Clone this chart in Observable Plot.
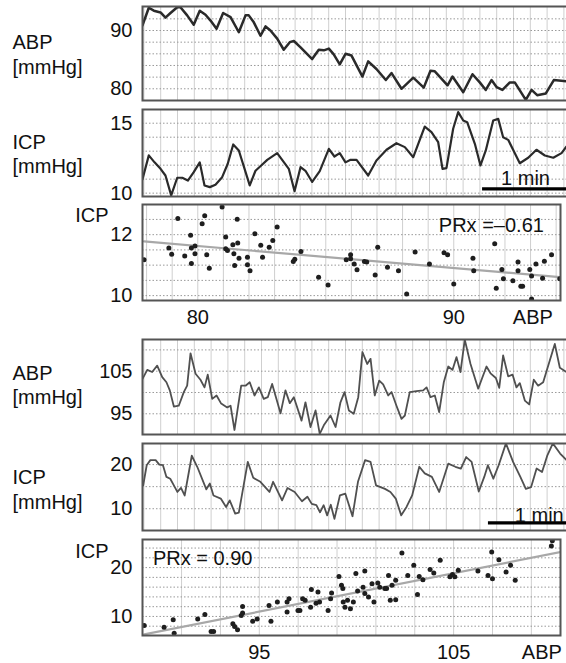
<!DOCTYPE html>
<html>
<head>
<meta charset="utf-8">
<script src="https://cdn.jsdelivr.net/npm/d3@7"></script>
<script src="https://cdn.jsdelivr.net/npm/@observablehq/plot@0.6"></script>
<style>
  html, body { margin: 0; padding: 0; background: #fff; }
  #chart { position: relative; width: 566px; height: 663px; overflow: hidden; background: #fff; }
  #chart > svg { position: absolute; left: 0; }
</style>
</head>
<body>
<div id="chart"></div>
<script>
// ---------- Data ----------
// Panel A: ABP time series (seconds, mmHg)
const abp1Time = [0,4.5,8.1,12.9,16.4,20,24.8,27.1,31.9,36.6,40.9,45,48.6,52.9,57.6,62.9,68.8,73.6,75.9,79.5,84.3,87.9,91.4,96.2,100.9,105.2,108.1,112.9,121.2,125.9,129.5,133.1,136.6,140.9,145,149.3,157.1,161.2,167.1,173.8,177.9,185,193.4,200.9,205.7,208.8,217.9,221.4,229.1,235.7,240.9,245.2,249.3,252.9,257.1,262.4,265.9,273.8,277.9,281.9,288.1,293.8,302.9];
const abp1 = [90.9,93.9,93.4,93.1,92.2,93.0,94.0,94.0,92.6,91.0,93.4,92.7,91.7,90.3,93.0,92.3,89.7,92.6,92.6,91.4,89.1,90.7,90.0,88.6,86.7,88.0,88.2,87.1,85.1,86.7,86.6,86.9,85.9,84.2,86.0,85.7,82.1,84.7,83.4,81.5,82.7,80.0,81.9,80.2,83.1,83.0,80.6,82.1,79.4,82.5,81.1,79.8,81.5,80.3,79.8,81.1,81.1,78.1,79.8,78.9,79.2,81.5,81.3];
// Panel A: ICP time series
const icp1Time = [0,4.5,8.6,12.9,16.4,20.5,24.8,28.4,32.4,36.6,40.9,44.3,48.1,52.1,56.9,60.9,64.8,68.8,76.6,80.7,84.8,89.1,96.2,104.5,108.6,112.9,116.4,121.2,126.6,133.1,137.1,140.9,145,148.6,152.9,161.2,167.1,174.3,181.4,187.4,193.4,201.6,206.4,211.2,214.3,217.1,221.9,225.5,229.1,231.9,237.4,241.4,245.2,250.5,254.1,257.6,261.2,269.5,275.5,281.4,287.4,293.4,299.3,302.9];
const icp1 = [11.0,12.7,12.2,11.74,11.26,9.84,11.1,11.1,10.9,11.5,12.2,10.55,10.43,10.6,11.14,12.1,13.48,13.05,10.55,11.6,11.98,12.38,12.86,11.74,10.14,11.86,11.6,10.8,11.57,13.17,12.62,12.86,12.2,12.38,12.38,11.26,12.34,13.1,13.57,13.29,12.57,14.76,14.36,13.64,11.74,11.79,14.6,15.79,15.19,15.07,13.53,11.98,13.05,15.19,15.31,14.0,13.81,12.14,12.53,13.1,12.69,12.53,12.86,13.34];
// Panel A: scatter ICP vs ABP
const prx1Abp = [77.9,78.87,78.98,79.22,79.49,79.72,79.75,79.75,79.89,79.89,80.17,80.27,80.35,80.45,80.95,81.09,81.09,81.16,81.37,81.41,81.44,81.54,81.56,81.61,81.94,81.94,82.04,82.23,82.46,82.53,82.79,82.93,83.1,83.73,83.79,84.03,84.72,85.09,85.8,85.97,85.97,86.11,86.22,86.51,86.6,86.93,87.03,87.41,87.84,88.16,88.49,89.05,89.62,89.76,90.0,90.75,90.78,91.6,91.66,91.88,91.94,92.31,92.51,92.51,92.62,92.69,92.97,93.04,93.04,93.21,93.47,93.54,93.82,94.14];
const prx1Icp = [11.18,11.56,11.36,12.53,11.3,11.98,11.56,11.05,11.63,11.37,12.36,12.62,11.34,10.9,12.91,11.92,11.54,11.48,11.67,11.37,10.99,12.51,11.73,11.23,11.26,11.01,10.82,12.03,11.65,11.26,11.59,11.81,12.25,11.12,11.19,11.45,10.6,10.35,11.18,11.34,11.21,11.04,10.85,11.12,11.1,10.68,11.59,10.93,10.82,10.05,11.43,11.04,11.41,11.34,10.38,11.23,10.82,11.7,10.24,10.86,10.55,10.49,11.1,10.82,10.31,10.31,10.86,10.64,9.89,11.04,10.57,11.13,11.34,10.55];
const prx1Label = "PRx =\u20130.61";

// Panel B: ABP time series
const abp2Time = [0,3.4,6.9,10.5,14.1,17.1,19.5,22.4,25.9,29.5,31.9,34.3,37.9,41.4,44.3,46.6,49.8,52.9,56.2,60.5,62.9,65.7,70.5,73.6,76.6,80,83.1,86.6,89.5,92.6,98.6,102.1,105.2,108.1,113.6,116.4,120,123.6,126.6,129.5,134.3,137.9,141.4,144.3,147.4,150.9,154.1,157.1,160.5,162.9,165.9,169.1,171.9,175.5,177.9,181.4,185,187.4,190.9,195.7,200.5,202.9,205.7,208.8,211.9,215.2,218.4,221.4,224.3,227.1,230.2,234.3,239.8,245.7,248.6,252.4,254.8,257.6,261.2,264.3,267.1,269.5,273.1,276.2,279.5,282.6,286.2,294.5,298.1,302.9];
const abp2 = [103.2,105.3,104.8,106.3,103.6,102.4,100.5,96.7,96.9,100.1,101.6,109.2,104.4,103.0,101.2,104.2,98.5,99.3,97.4,96.5,96.9,91.2,101.6,101.6,102.4,99.3,101.2,98.5,98.9,102.0,95.1,100.5,97.5,98.9,93.4,97.7,91.9,95.8,90.3,92.3,94.6,91.9,97.7,100.1,95.8,95.0,98.9,109.5,106.7,107.9,99.3,102.8,101.9,99.3,100.1,96.9,93.8,94.6,100.1,100.3,100.5,101.2,98.9,99.3,95.4,102.4,106.1,105.3,108.3,104.8,112.4,106.7,100.9,106.1,104.5,103.4,101.1,108.7,103.8,104.2,101.2,102.2,98.1,97.2,103.0,101.6,102.4,111.4,105.8,104.8];
// Panel B: ICP time series
const icp2Time = [0.5,3,5.6,9.4,12,14.6,17.1,19.8,22.4,24.9,27.5,30.1,35.2,39.1,45.6,48.1,50.7,55.9,59.7,62.3,66.2,68.8,75.2,79.1,84.2,90.7,93.3,99.7,103.6,108.7,113.9,117.8,120.9,124.2,126.8,129.4,131.9,134.5,137.1,141,144.9,150,153.9,159,162.9,166.8,173.2,177.1,180.9,184.8,188.6,192.6,197.7,201.6,206.7,211.9,218.4,223.5,227.4,231.2,235.1,240.2,244.1,246.7,250.6,254.4,259.6,264.7,269.9,273.8,277.6,281.5,285.4,289.2,293.1,298.3,302.9];
const icp2 = [15.3,19.85,21,21,20,19.85,17.2,16.8,15.3,13.8,14.7,13.0,22.0,19.5,14.4,15.7,13.0,12.3,10.4,11.9,8.9,9.1,20.6,17.0,16.1,13.8,16.1,11.9,14.7,13.8,11.7,12.7,11.1,10.8,9.2,10.8,8.5,10.9,7.7,13.0,13.4,8.3,16.1,21.0,20.6,15.3,14.5,13.8,12.3,8.5,10.4,13.0,19.5,18.0,17.2,13.8,20.2,19.5,19.1,21.7,20.6,13.9,17.2,19.85,16.8,19.85,24.8,20.6,17.2,14.5,14.9,19.1,18.3,22.1,24.8,22.5,21];
// Panel B: scatter ICP vs ABP
const prx2Abp = [89.08,90.1,90.57,90.62,91.83,92.2,92.52,92.65,93.64,93.73,93.88,94.07,94.14,94.14,94.66,94.89,95.6,95.5,95.93,96.43,96.43,96.53,96.99,97.09,97.23,97.36,97.64,97.68,97.92,98.02,98.1,98.54,98.67,98.72,99.1,99.23,99.3,99.32,99.41,99.54,99.69,99.84,99.97,100.06,100.34,100.43,100.43,100.62,100.8,100.9,101.1,101.2,101.46,101.55,101.65,101.74,101.83,102.02,102.02,102.34,102.64,102.95,103.14,103.23,103.42,103.79,103.98,104.31,104.81,104.94,105.06,105.24,106.25,106.77,106.96,107.0,107.33,107.7,107.93,108.17,110.03,110.08,110.68];
const prx2Icp = [8.15,7.8,9.3,6.58,9.5,10.4,6.9,6.9,8.5,7.95,7.26,10.2,10.7,12.05,9.04,9.5,9.04,12.26,12.95,10.9,12.95,13.6,11.23,11.23,13.6,13.3,11.9,15.5,12.7,15.0,12.95,11.23,13.6,14.8,18.2,16.4,15.7,12.95,11.9,13.3,11.6,12.95,18.8,15.2,16.0,19.3,14.7,14.0,16.7,12.95,16.85,16.0,15.7,15.7,18.4,13.3,16.4,13.4,17.4,23.0,18.4,20.5,14.5,18.2,17.5,19.6,18.9,21.5,18.1,18.6,18.1,19.45,19.3,18.4,23.2,17.7,21.6,19.1,20.5,17.4,24.4,25.5,20.1];
const prx2Label = "PRx = 0.90";

// Tick labels
const abp1Ticks = [80, 90];
const icp1Ticks = [10, 15];
const sc1XTicks = [80, 90];
const sc1YTicks = [10, 12];
const abp2Ticks = [95, 105];
const icp2Ticks = [10, 20];
const sc2XTicks = [95, 105];
const sc2YTicks = [10, 20];
const oneMinute = 60; // seconds, scale bar length

// ---------- Drawing ----------
const FONT = '"Liberation Sans", Arial, Helvetica, sans-serif';
const chart = document.getElementById("chart");
const LEFT = 142;
const TS_WIDTH = 572;                       // right frame edge falls outside the window
const T_MAX = (TS_WIDTH - LEFT) / 84 * 60;  // 84 px per minute
const gridTimes = d3.range(1, T_MAX, 12);
const FS = 20;
const fmt = d3.format("d");

function place(svg, top) { svg.style.top = top + "px"; chart.appendChild(svg); }
const style = {fontFamily: FONT, fontSize: FS + "px", background: "transparent", maxWidth: "none", overflow: "visible", color: "#111"};

function tsPanel(o) {
  const data = o.t.map((d, i) => ({t: d, v: o.v[i]}));
  const marks = [
    Plot.ruleX(gridTimes, {stroke: "#cfcfcf", strokeWidth: 1}),
    Plot.ruleY(o.yGrid, {stroke: "#999", strokeWidth: 1, strokeDasharray: "1.5,2"}),
    Plot.line(data, {x: "t", y: "v", stroke: o.stroke, strokeWidth: o.sw, strokeLinejoin: "round", clip: true}),
    Plot.frame({stroke: "#555", strokeWidth: 2}),
    Plot.axisY({ticks: o.yTicks, tickFormat: fmt, tickSize: 0, tickPadding: 10, fontSize: FS, label: null}),
    Plot.text([o.label], {frameAnchor: "left", dx: -130, dy: o.labelDy || 0, textAnchor: "start", lineHeight: 1.22, fontSize: FS})
  ];
  if (o.barStart != null) {
    marks.push(Plot.ruleY([{y: o.yDomain[0], x1: o.barStart, x2: o.barStart + oneMinute + 10}], {y: "y", x1: "x1", x2: "x2", dy: -7.7, stroke: "#000", strokeWidth: 3.3}));
    marks.push(Plot.text([{x: o.barText, s: "1 min"}], {x: "x", text: "s", frameAnchor: "bottom", dy: o.barTextDy, lineAnchor: "middle", fontSize: FS}));
  }
  const svg = Plot.plot({
    width: TS_WIDTH, height: o.height, marginTop: o.mt, marginBottom: o.mb, marginLeft: LEFT, marginRight: 0,
    x: {domain: [0, T_MAX], axis: null}, y: {domain: o.yDomain, label: null}, style, marks
  });
  place(svg, o.top);
}

function scPanel(o) {
  const data = o.x.map((d, i) => ({x: d, y: o.y[i]}));
  const marks = [
    Plot.ruleX(o.xGrid, {stroke: "#cfcfcf", strokeWidth: 1}),
    Plot.ruleY(o.yGrid, {stroke: "#999", strokeWidth: 1, strokeDasharray: "1.5,2"}),
    Plot.linearRegressionY(data, {x: "x", y: "y", ci: 0, stroke: "#a8a8a8", strokeWidth: 2.2, clip: true}),
    Plot.dot(data, {x: "x", y: "y", r: 2.5, fill: "#1e1e1e", stroke: "none", clip: true}),
    Plot.frame({stroke: "#555", strokeWidth: 2}),
    Plot.axisY({ticks: o.yTicks, tickFormat: fmt, tickSize: 0, tickPadding: 10, fontSize: FS, label: null}),
    Plot.axisX({ticks: o.xTicks, tickFormat: fmt, tickSize: 0, tickPadding: 9, fontSize: FS, label: null}),
    Plot.text(["ABP"], {frameAnchor: "bottom-right", textAnchor: "end", lineAnchor: "top", dx: o.abpDx, dy: 9, fontSize: FS}),
    Plot.text(["ICP"], {frameAnchor: "top-left", textAnchor: "end", lineAnchor: "middle", dx: -34, dy: o.icpDy, fontSize: FS}),
    Plot.text([o.prx], {frameAnchor: o.prxAnchor, textAnchor: o.prxTextAnchor, lineAnchor: "middle", dx: o.prxDx, dy: o.prxDy, fontSize: FS})
  ];
  const svg = Plot.plot({
    width: 566, height: o.height, marginTop: o.mt, marginBottom: o.mb, marginLeft: LEFT, marginRight: 6,
    x: {domain: o.xDomain, label: null}, y: {domain: o.yDomain, label: null}, style, marks
  });
  place(svg, o.top);
}

// Panel A
tsPanel({top: 0, height: 102, mt: 6, mb: 2, t: abp1Time, v: abp1, yDomain: [77.99, 94.12], yTicks: abp1Ticks,
  yGrid: d3.range(80, 94, 2), label: "ABP\n[mmHg]", stroke: "#2a2a2a", sw: 2.5});
tsPanel({top: 102, height: 97, mt: 7, mb: 3, t: icp1Time, v: icp1, yDomain: [9.76, 15.98], yTicks: icp1Ticks,
  yGrid: d3.range(10, 16, 1), label: "ICP\n[mmHg]", stroke: "#2a2a2a", sw: 2.2,
  barStart: 242.9, barText: 273.6, barTextDy: -17.7});
scPanel({top: 199, height: 136, mt: 5, mb: 35, x: prx1Abp, y: prx1Icp, xDomain: [77.84, 94.17], yDomain: [9.84, 12.99],
  xTicks: sc1XTicks, yTicks: sc1YTicks, xGrid: d3.range(78, 95, 1), yGrid: d3.range(10, 13, 0.5),
  abpDx: -7.6, icpDy: 11, prx: prx1Label, prxAnchor: "top-right", prxTextAnchor: "end", prxDx: -16.6, prxDy: 21});

// Panel B
tsPanel({top: 335, height: 103, mt: 4, mb: 4, t: abp2Time, v: abp2, yDomain: [90.14, 112.44], yTicks: abp2Ticks,
  yGrid: d3.range(95, 112, 5), label: "ABP\n[mmHg]", labelDy: -3, stroke: "#505050", sw: 1.8});
tsPanel({top: 438, height: 97, mt: 5, mb: 5, t: icp2Time, v: icp2, yDomain: [5.07, 24.77], yTicks: icp2Ticks,
  yGrid: d3.range(10, 25, 5), label: "ICP\n[mmHg]", labelDy: 1.5, stroke: "#505050", sw: 1.8,
  barStart: 247.1, barText: 283.4, barTextDy: -15});
scPanel({top: 535, height: 128, mt: 4, mb: 28, x: prx2Abp, y: prx2Icp, xDomain: [88.99, 110.5], yDomain: [6.1, 25.75],
  xTicks: sc2XTicks, yTicks: sc2YTicks, xGrid: d3.range(91, 111, 2), yGrid: d3.range(8, 26, 2),
  abpDx: 1.4, icpDy: 12, prx: prx2Label, prxAnchor: "top-left", prxTextAnchor: "start", prxDx: 10.4, prxDy: 19});
</script>
</body>
</html>
